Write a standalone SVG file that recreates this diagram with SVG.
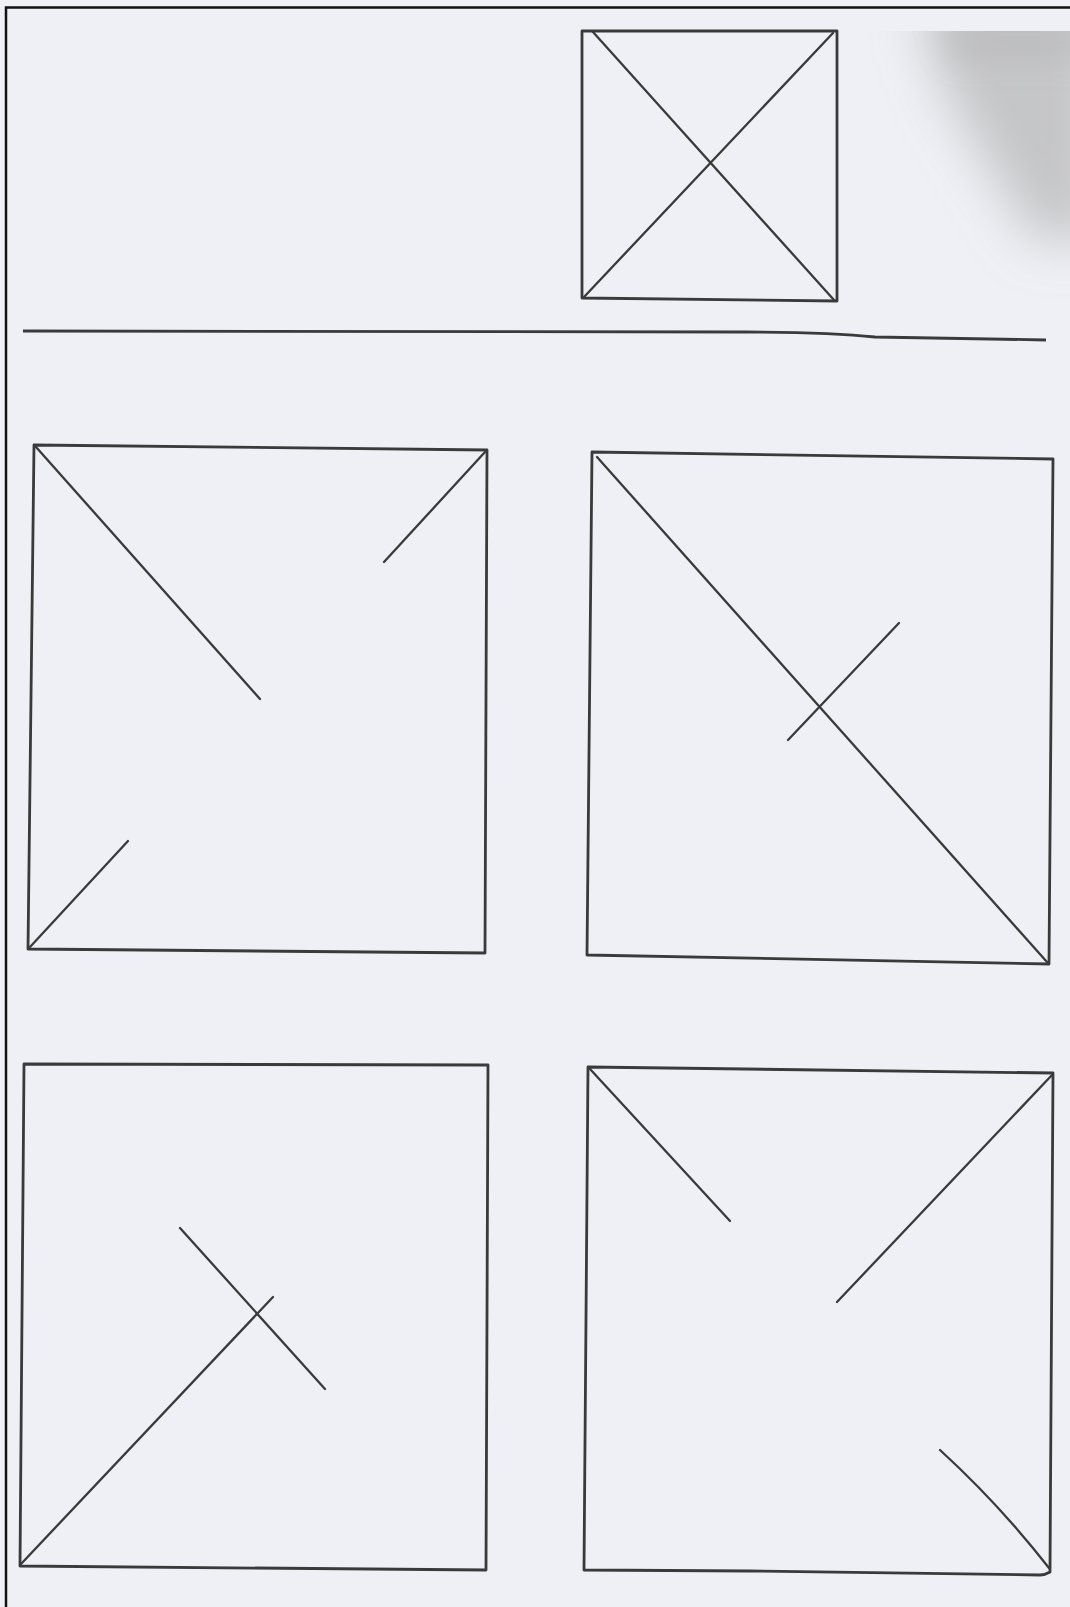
<svg xmlns="http://www.w3.org/2000/svg" width="1070" height="1607" viewBox="0 0 1070 1607">
<defs>
<style>
.frame{fill:none;stroke:#111;stroke-width:2.5}
.box{fill:none;stroke:#3a3a3a;stroke-width:2.8;stroke-linejoin:round}
.ln{fill:none;stroke:#3a3a3a;stroke-width:2.3;stroke-linecap:round}
</style>
<filter id="blur" x="-50%" y="-50%" width="200%" height="200%"><feGaussianBlur stdDeviation="26"/></filter>
<filter id="blur2" x="-50%" y="-50%" width="200%" height="200%"><feGaussianBlur stdDeviation="14"/></filter>
<clipPath id="clipTop"><rect x="850" y="31" width="220" height="320"/></clipPath>
</defs>
<rect x="0" y="0" width="1070" height="1607" fill="#eff0f5"/>
<g id="smudge" clip-path="url(#clipTop)">
<path d="M915,0 L1100,0 L1100,240 L1035,240 L985,160 L945,90 Z" fill="#a2a2a2" fill-opacity="0.55" filter="url(#blur)"/>
<path d="M935,0 L1100,0 L1100,60 L950,60 Z" fill="#a8a8a8" fill-opacity="0.3" filter="url(#blur2)"/>
</g>
<path class="frame" d="M6,1607 L6,7.5 L1070,7.5"/>
<g id="top-box">
<path class="box" d="M582,31 L837,31 L837,301 L582,298 Z"/>
</g>
<g id="divider">
<path class="box" d="M23,331 L745,332 Q830,332 875,337 L1046,340"/>
</g>
<g id="box-a">
<path class="box" d="M34,445 L487,450 L485,953 L28,949 Z"/>
</g>
<g id="box-b">
<path class="box" d="M592,452 L1053,459 L1049,964 L587,955 Z"/>
</g>
<g id="box-c">
<path class="box" d="M24,1064 L488,1065 L486,1570 L20,1566 Z"/>
</g>
<g id="box-d">
<path class="box" d="M588,1067 L1053,1073 L1050,1572 Q1045,1575 1040,1575 L750,1571 L584,1570 Z"/>
</g>
<g id="connectors">
<line class="ln" x1="593" y1="32" x2="834" y2="300"/>
<line class="ln" x1="833" y1="33" x2="584" y2="297"/>
<line class="ln" x1="36" y1="447" x2="260" y2="699"/>
<line class="ln" x1="485" y1="452" x2="384" y2="562"/>
<line class="ln" x1="30" y1="947" x2="128" y2="841"/>
<line class="ln" x1="597" y1="457" x2="1047" y2="962"/>
<line class="ln" x1="899" y1="623" x2="788" y2="740"/>
<line class="ln" x1="21" y1="1564" x2="273" y2="1297"/>
<line class="ln" x1="180" y1="1228" x2="325" y2="1389"/>
<line class="ln" x1="590" y1="1069" x2="730" y2="1221"/>
<line class="ln" x1="1052" y1="1075" x2="837" y2="1302"/>
<path class="ln" d="M940,1450 Q1000,1505 1049,1568"/>
</g>
</svg>
